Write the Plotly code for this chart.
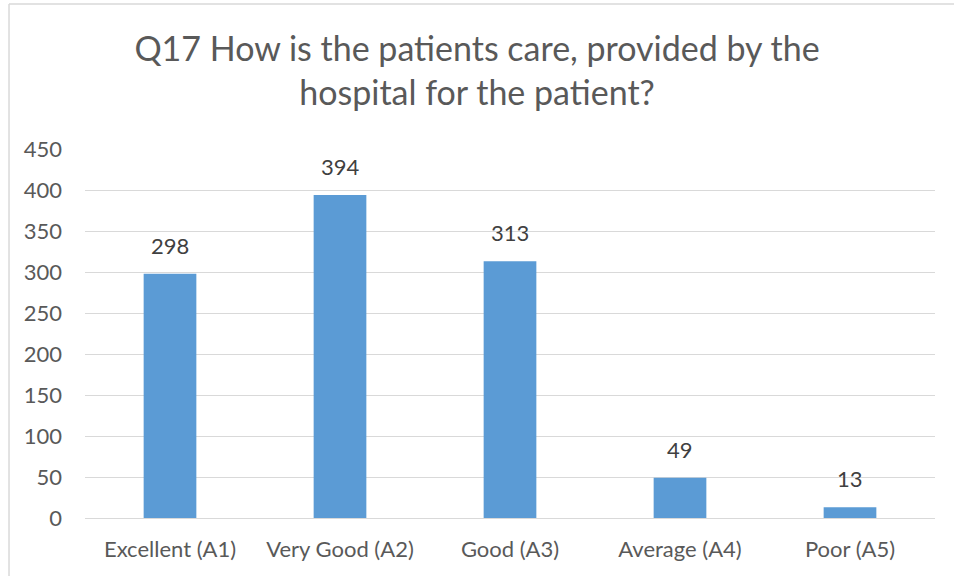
import plotly.graph_objects as go

categories = ["Excellent (A1)", "Very Good (A2)", "Good (A3)", "Average (A4)", "Poor (A5)"]
values = [298, 394, 313, 49, 13]
y_ticks = [0, 50, 100, 150, 200, 250, 300, 350, 400, 450]
title_text = "Q17 How is the patients care, provided by the<br>hospital for the patient?"

FONT = "Lato"
fig = go.Figure()
fig.add_trace(go.Bar(x=categories, y=values, marker=dict(color="#5B9BD5", line=dict(width=0)),
                     hoverinfo="x+y"))

for c, v in zip(categories, values):
    fig.add_annotation(x=c, y=v, text=str(v), showarrow=False, yanchor="bottom", yshift=13,
                       font=dict(family=FONT, size=22, color="#404040"))

fig.update_layout(
    width=954, height=576,
    margin=dict(l=85, r=19, t=149, b=58),
    paper_bgcolor="white", plot_bgcolor="white",
    bargap=0.69,
    showlegend=False,
    title=dict(text=title_text, x=0.5, xanchor="center", y=0.8936, yanchor="middle",
               font=dict(family=FONT, size=34, color="#595959")),
    xaxis=dict(tickfont=dict(family=FONT, size=22, color="#595959"), showgrid=False,
               showline=False, ticks="", ticklabelstandoff=16),
    yaxis=dict(range=[0, 450], tickvals=y_ticks, showgrid=True, gridcolor="#D9D9D9", gridwidth=1,
               zeroline=True, zerolinecolor="#D9D9D9", zerolinewidth=1,
               tickfont=dict(family=FONT, size=22, color="#595959"), ticks="",
               ticklabelstandoff=22),
    shapes=[
        dict(type="line", xref="paper", yref="paper", x0=-0.0894, x1=1.05, y0=1.393, y1=1.393,
             line=dict(color="#D9D9D9", width=1.5)),
        dict(type="line", xref="paper", yref="paper", x0=-0.0894, x1=-0.0894, y0=1.393, y1=-0.2,
             line=dict(color="#D9D9D9", width=1.5)),
    ],
)
fig.write_html("out.html", config={"displayModeBar": False},
               post_script="document.body.style.margin='0';")
